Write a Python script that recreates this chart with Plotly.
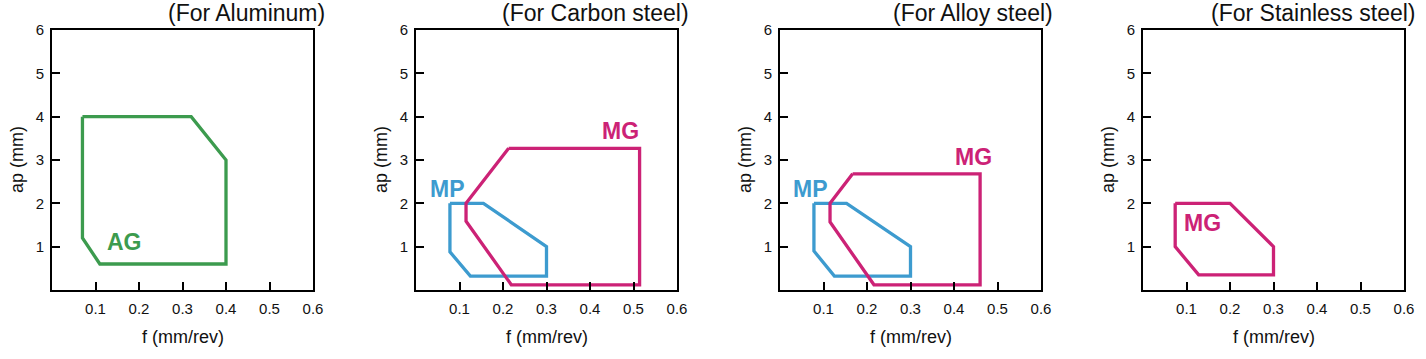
import plotly.graph_objects as go

# ---- data ----
titles = ["(For Aluminum)", "(For Carbon steel)", "(For Alloy steel)", "(For Stainless steel)"]
x_ticks = [0.1, 0.2, 0.3, 0.4, 0.5, 0.6]
y_ticks = [1, 2, 3, 4, 5, 6]

ag_alu_f = [0.07, 0.32, 0.40, 0.40, 0.11, 0.07, 0.07]
ag_alu_ap = [4.0, 4.0, 3.0, 0.6, 0.6, 1.2, 4.0]

mg_cs_f = [0.213, 0.514, 0.514, 0.219, 0.115, 0.115, 0.213]
mg_cs_ap = [3.27, 3.27, 0.12, 0.12, 1.59, 2.0, 3.27]
mp_cs_f = [0.078, 0.155, 0.30, 0.30, 0.125, 0.078, 0.078]
mp_cs_ap = [2.0, 2.0, 1.0, 0.32, 0.32, 0.88, 2.0]

mg_as_f = [0.167, 0.46, 0.46, 0.216, 0.115, 0.115, 0.167]
mg_as_ap = [2.68, 2.68, 0.12, 0.12, 1.57, 2.0, 2.68]
mp_as_f = [0.078, 0.153, 0.30, 0.30, 0.125, 0.078, 0.078]
mp_as_ap = [2.0, 2.0, 1.0, 0.32, 0.32, 0.9, 2.0]

mg_ss_f = [0.074, 0.20, 0.30, 0.30, 0.128, 0.074, 0.074]
mg_ss_ap = [2.0, 2.0, 1.0, 0.35, 0.35, 1.0, 2.0]

GREEN = "#3c9b4e"
MAGENTA = "#cc2276"
BLUE = "#3d9bcf"

# (panel, f, ap, color)
series = [
    (1, ag_alu_f, ag_alu_ap, GREEN),
    (2, mp_cs_f, mp_cs_ap, BLUE),
    (2, mg_cs_f, mg_cs_ap, MAGENTA),
    (3, mp_as_f, mp_as_ap, BLUE),
    (3, mg_as_f, mg_as_ap, MAGENTA),
    (4, mg_ss_f, mg_ss_ap, MAGENTA),
]
# (panel, text, f, ap, color)
labels = [
    (1, "AG", 0.166, 1.1, GREEN),
    (2, "MP", 0.072, 2.34, BLUE),
    (2, "MG", 0.47, 3.68, MAGENTA),
    (3, "MP", 0.07, 2.34, BLUE),
    (3, "MG", 0.445, 3.08, MAGENTA),
    (4, "MG", 0.136, 1.55, MAGENTA),
]

W, H = 1426, 359
ML, MR, MT, MB = 52, 22, 30, 69
PW = W - ML - MR
lefts = [52, 416, 780, 1143]
pw = 261

FONT = "Arial, Liberation Sans, sans-serif"
TXT = "#111111"

fig = go.Figure()
for p, f, ap, c in series:
    fig.add_trace(go.Scatter(x=f, y=ap, mode="lines", line=dict(color=c, width=3.3),
                             xaxis=f"x{p if p > 1 else ''}", yaxis=f"y{p if p > 1 else ''}",
                             showlegend=False, hoverinfo="skip"))

annotations = []
for p, t, fx, ay, c in labels:
    s = "" if p == 1 else str(p)
    annotations.append(dict(text=f"<b>{t}</b>", x=fx, y=ay, xref=f"x{s}", yref=f"y{s}",
                            showarrow=False, font=dict(family=FONT, size=23, color=c)))

layout = dict(width=W, height=H, margin=dict(l=ML, r=MR, t=MT, b=MB),
              paper_bgcolor="white", plot_bgcolor="white",
              font=dict(family=FONT, color=TXT))

for i in range(4):
    s = "" if i == 0 else str(i + 1)
    d0 = (lefts[i] - ML) / PW
    d1 = min((lefts[i] + pw - ML) / PW, 1.0)
    common = dict(showline=True, linecolor="black", linewidth=2, mirror=True,
                  ticks="inside", ticklen=8, tickwidth=2, tickcolor="black",
                  showgrid=False, zeroline=False, fixedrange=True,
                  tickfont=dict(family=FONT, size=15, color=TXT))
    layout[f"xaxis{s}"] = dict(domain=[d0, d1], range=[0, 0.6], tickvals=x_ticks,
                               ticktext=[f"{v:.1f}" for v in x_ticks],
                               ticklabelstandoff=4, anchor=f"y{s}", **common)
    layout[f"yaxis{s}"] = dict(domain=[0, 1], range=[0, 6], tickvals=y_ticks,
                               ticklabelstandoff=3, anchor=f"x{s}", **common)
    # panel title
    annotations.append(dict(text=titles[i], xref=f"x{s} domain", yref=f"y{s} domain",
                            x=1, y=1, xanchor="right", yanchor="bottom", xshift=14, yshift=2,
                            showarrow=False, font=dict(family=FONT, size=23, color=TXT)))
    # y title
    annotations.append(dict(text="ap (mm)", xref=f"x{s} domain", yref=f"y{s} domain",
                            x=0, y=0.5, xanchor="center", yanchor="middle", xshift=-35,
                            textangle=-90, showarrow=False,
                            font=dict(family=FONT, size=18, color=TXT)))
    # x title
    annotations.append(dict(text="f (mm/rev)", xref=f"x{s} domain", yref=f"y{s} domain",
                            x=0.5, y=0, xanchor="center", yanchor="middle", yshift=-47,
                            showarrow=False, font=dict(family=FONT, size=18, color=TXT)))

layout["annotations"] = annotations
fig.update_layout(**layout)
fig.write_html("out.html", config={"displayModeBar": False},
               post_script="document.body.style.margin='0';")
